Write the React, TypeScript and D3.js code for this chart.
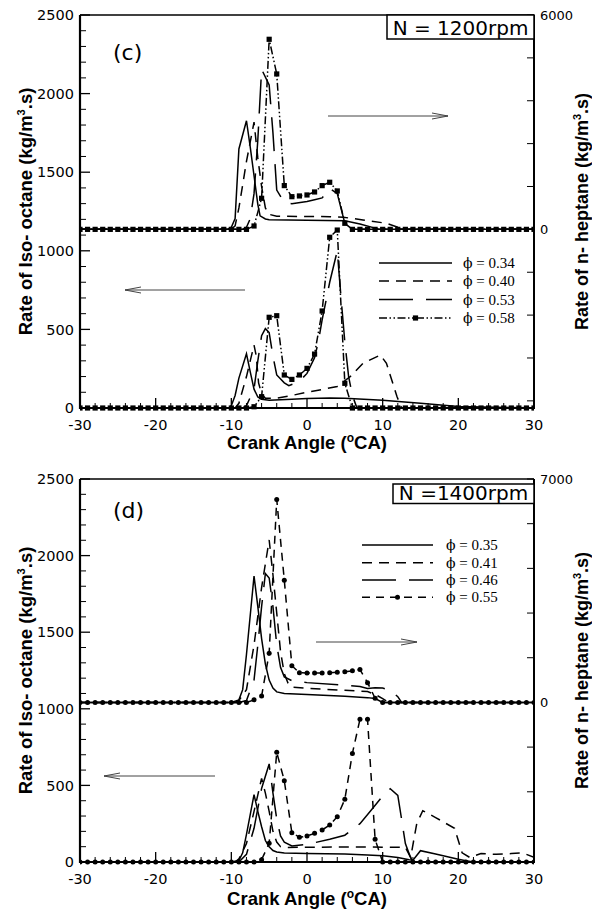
import React from 'react';
import * as d3 from 'd3';

type Pt = [number, number];

// ---------- axes / ticks ----------
const xMajorTicks = [-30, -20, -10, 0, 10, 20, 30];
const xMinorTicks = [-28, -26, -24, -22, -18, -16, -14, -12, -8, -6, -4, -2, 2, 4, 6, 8, 12, 14, 16, 18, 22, 24, 26, 28];
const leftMajorTicks = [0, 500, 1000, 1500, 2000, 2500];
const leftMinorTicks = [100, 200, 300, 400, 600, 700, 800, 900, 1100, 1200, 1300, 1400, 1600, 1700, 1800, 1900, 2100, 2200, 2300, 2400];
const cRightTicks = [-4800, -3600, -2400, -1200, 0, 1200, 2400, 3600, 4800, 6000];
const cRightLabels = [0, 6000];
const dRightTicks = [-4200, -2800, -1400, 0, 1400, 2800, 4200, 5600, 7000];
const dRightLabels = [0, 7000];

const markerAngles = [-30, -29, -28, -27, -26, -25, -24, -23, -22, -21, -20, -19, -18, -17, -16, -15, -14, -13, -12, -11, -10, -9, -8, -7, -6, -5, -4, -3, -2, -1, 0, 1, 2, 3, 4, 5, 6, 7, 8, 9, 10, 11, 12, 13, 14, 15, 16, 17, 18, 19, 20, 21, 22, 23, 24, 25, 26, 27, 28, 29, 30];

// ---------- panel (c) N = 1200 rpm ----------
const cLegend = ['0.34', '0.40', '0.53', '0.58'];
// n-heptane (right axis)
const cHept034: Pt[] = [[-30, 0], [-10.5, 0], [-10, 60], [-9.5, 300], [-9, 2250], [-8, 3040], [-7.5, 2300], [-7, 1500], [-6.5, 700], [-6.2, 380], [-5.5, 290], [-5, 270], [0, 258], [5, 240], [7, 150], [9.6, 0], [30, 0]];
const cHept040: Pt[] = [[-30, 0], [-10, 0], [-9.5, 100], [-9, 600], [-8, 1900], [-7, 3000], [-6.5, 2000], [-6, 1200], [-5.5, 600], [-5, 420], [-4, 370], [0, 360], [3, 355], [4.8, 340], [7.4, 263], [10.5, 170], [12, 60], [13, 0], [30, 0]];
const cHept053: Pt[] = [[-30, 0], [-8.5, 0], [-8, 60], [-7.5, 300], [-7, 1000], [-6.5, 2500], [-6, 4480], [-5, 4040], [-4.5, 2700], [-4, 1100], [-3, 750], [-2, 720], [0, 780], [1, 830], [2, 880], [3, 1150], [4, 1000], [5, 170], [5.8, 0], [30, 0]];
const cHept058 = [0, 0, 0, 0, 0, 0, 0, 0, 0, 0, 0, 0, 0, 0, 0, 0, 0, 0, 0, 0, 0, 0, 0, 95, 870, 5320, 4350, 1225, 915, 935, 963, 1047, 1224, 1318, 1075, 170, 0, 0, 0, 0, 0, 0, 0, 0, 0, 0, 0, 0, 0, 0, 0, 0, 0, 0, 0, 0, 0, 0, 0, 0, 0];
// iso-octane (left axis)
const cIso034: Pt[] = [[-30, 0], [-10.3, 0], [-10, 15], [-9.5, 80], [-9, 190], [-8, 345], [-7.5, 230], [-7, 120], [-6.5, 70], [-6, 55], [-5, 50], [-2, 55], [0, 60], [3, 63], [5, 62], [10, 50], [15, 30], [20, 10], [25, 4], [30, 2]];
const cIso040: Pt[] = [[-30, 0], [-9.5, 0], [-9, 30], [-8, 200], [-7, 400], [-6.7, 330], [-6.4, 160], [-6, 90], [-5.5, 62], [-4, 62], [-2, 80], [0, 100], [2, 118], [4, 137], [5.7, 199], [7.4, 284], [9.7, 337], [10.5, 284], [11.9, 72], [12.5, 0], [30, 0]];
const cIso053: Pt[] = [[-30, 0], [-8.5, 0], [-8, 15], [-7, 120], [-6.5, 300], [-6, 460], [-5.5, 505], [-5, 480], [-4.5, 330], [-4, 210], [-3, 160], [-2.4, 142], [-1, 170], [0, 220], [1, 320], [1.5, 422], [2, 560], [3, 800], [3.5, 900], [4, 1000], [4.5, 700], [5, 420], [5.5, 200], [6, 80], [6.6, 0], [30, 0]];
const cIso058 = [0, 0, 0, 0, 0, 0, 0, 0, 0, 0, 0, 0, 0, 0, 0, 0, 0, 0, 0, 0, 0, 0, 0, 8, 72, 577, 587, 210, 182, 210, 252, 343, 617, 1086, 1132, 157, 0, 0, 0, 0, 0, 0, 0, 0, 0, 0, 0, 0, 0, 0, 0, 0, 0, 0, 0, 0, 0, 0, 0, 0, 0];

// ---------- panel (d) N = 1400 rpm ----------
const dLegend = ['0.35', '0.41', '0.46', '0.55'];
const dHept035: Pt[] = [[-30, 0], [-10, 0], [-9, 80], [-8.5, 400], [-8, 1500], [-7, 3960], [-6.5, 3000], [-6, 2000], [-5.5, 1200], [-5, 700], [-4.5, 450], [-4, 330], [-3, 280], [0, 250], [5, 190], [8, 150], [9, 120], [10, 0], [30, 0]];
const dHept041: Pt[] = [[-30, 0], [-9.5, 0], [-9, 60], [-8, 400], [-7, 1800], [-6, 3600], [-5, 5090], [-4.5, 4000], [-4, 2800], [-3.5, 1600], [-3, 900], [-2.5, 600], [-2, 480], [0, 440], [5, 380], [8, 340], [9, 250], [10, 120], [10.8, 0], [30, 0]];
const dHept046: Pt[] = [[-30, 0], [-9, 0], [-8, 60], [-7, 700], [-6.5, 1800], [-6, 3000], [-5.5, 4040], [-5, 3900], [-4.5, 3000], [-4, 1800], [-3.5, 1100], [-3, 800], [-2, 680], [0, 620], [5, 540], [7, 500], [8, 440], [9, 460], [10, 450], [11, 380], [12, 180], [12.5, 0], [30, 0]];
const dHept055 = [0, 0, 0, 0, 0, 0, 0, 0, 0, 0, 0, 0, 0, 0, 0, 0, 0, 0, 0, 0, 0, 0, 0, 80, 200, 1540, 6360, 3830, 1150, 930, 920, 920, 925, 930, 945, 960, 990, 1030, 620, 130, 0, 0, 0, 0, 0, 0, 0, 0, 0, 0, 0, 0, 0, 0, 0, 0, 0, 0, 0, 0, 0];
const dIso035: Pt[] = [[-30, 0], [-10, 0], [-9, 10], [-8.5, 60], [-8, 180], [-7, 440], [-6.5, 330], [-6, 230], [-5.5, 140], [-5, 100], [-4.5, 75], [-4, 65], [-3, 58], [0, 56], [5, 52], [8, 45], [10, 40], [12, 30], [13.5, 15], [14, 12], [15, 74], [17, 52], [20, 18], [21, 8], [22, 0], [30, 0]];
const dIso041: Pt[] = [[-30, 0], [-9.5, 0], [-9, 20], [-8, 120], [-7, 330], [-6, 546], [-5.5, 450], [-5, 330], [-4.5, 200], [-4, 130], [-3.5, 100], [-3, 95], [0, 96], [5, 98], [8, 98], [10, 97], [13, 95], [13.7, 30], [14.5, 250], [15.3, 335], [17, 290], [19.5, 220], [20.5, 60], [21.5, 30], [23, 55], [25, 50], [27, 55], [28.5, 60], [30, 30]];
const dIso046: Pt[] = [[-30, 0], [-9, 0], [-8, 50], [-7, 220], [-6, 480], [-5, 640], [-4.5, 450], [-4, 280], [-3.5, 170], [-3, 130], [-2, 105], [0, 115], [3, 148], [5, 175], [7, 250], [8.5, 340], [10, 430], [11, 478], [12, 435], [12.5, 280], [13, 120], [13.6, 40], [14, 0], [30, 0]];
const dIso055 = [0, 0, 0, 0, 0, 0, 0, 0, 0, 0, 0, 0, 0, 0, 0, 0, 0, 0, 0, 0, 0, 0, 0, 0, 15, 122, 716, 531, 191, 161, 170, 187, 209, 241, 296, 409, 709, 931, 931, 148, 0, 0, 0, 0, 0, 0, 0, 0, 0, 0, 0, 0, 0, 0, 0, 0, 0, 0, 0, 0, 0];

// ---------- styles ----------
type Style = { dash?: string; marker?: 'square' | 'circle' };
const styleSolid: Style = {};
const styleDash: Style = { dash: '10,7' };
const styleLong: Style = { dash: '34,13' };
const styleDDot: Style = { dash: '8,2.5,1.5,2.5,1.5,2.5', marker: 'square' };
const styleDashCircle: Style = { dash: '8,6', marker: 'circle' };

const withAngles = (vals: number[]): Pt[] => markerAngles.map((a, i) => [a, vals[i]] as Pt);

const X0 = 80, X1 = 534;
const FONT = 'DejaVu Sans, Liberation Sans, Arial, sans-serif';
const BOLD = 'Liberation Sans, Arial, sans-serif';
const SERIF = 'Liberation Serif, Times New Roman, serif';

type Series = { data: Pt[]; axis: 'L' | 'R'; style: Style };

type PanelCfg = {
  id: string;
  top: number;
  bottom: number;
  rightDomain: [number, number];
  rightTicks: number[];
  rightLabels: number[];
  series: Series[];
  legend: string[];
  legendStyles: Style[];
  legendX0: number;
  legendX1: number;
  legendTextX: number;
  legendRows: number[];
  tag: string;
  tagY: number;
  box: string;
  boxX: number;
  boxY0: number;
  boxY1: number;
  arrowR: [number, number, number];
  arrowL: [number, number, number];
  titleOffset: number;
};

function Marker({ type, cx, cy }: { type?: 'square' | 'circle'; cx: number; cy: number }) {
  if (type === 'square') return <rect x={cx - 2.6} y={cy - 2.6} width={5.2} height={5.2} fill="#000" />;
  if (type === 'circle') return <circle cx={cx} cy={cy} r={2.5} fill="#000" />;
  return null;
}

function Arrow({ x0, x1, y }: { x0: number; x1: number; y: number }) {
  const dir = x1 > x0 ? 1 : -1;
  return (
    <g stroke="#444" strokeWidth={1} fill="none">
      <line x1={x0} y1={y} x2={x1} y2={y} />
      <path d={`M${x1 - dir * 16},${y - 3} L${x1},${y} L${x1 - dir * 16},${y + 3}`} />
    </g>
  );
}

function Panel({ cfg }: { cfg: PanelCfg }) {
  const x = d3.scaleLinear().domain([-30, 30]).range([X0, X1]);
  const yL = d3.scaleLinear().domain([0, 2500]).range([cfg.bottom, cfg.top]);
  const yR = d3.scaleLinear().domain(cfg.rightDomain).range([cfg.bottom, cfg.top]);
  const midY = (cfg.top + cfg.bottom) / 2;
  return (
    <g>
      <defs>
        <clipPath id={`clip-${cfg.id}`}>
          <rect x={X0} y={cfg.top - 4} width={X1 - X0} height={cfg.bottom - cfg.top + 8} />
        </clipPath>
      </defs>
      <g clipPath={`url(#clip-${cfg.id})`}>
        {cfg.series.map((s, i) => {
          const ys = s.axis === 'L' ? yL : yR;
          const line = d3.line<Pt>().x((d) => x(d[0])).y((d) => ys(d[1]));
          return (
            <g key={i}>
              <path d={line(s.data) || ''} fill="none" stroke="#000" strokeWidth={1.5} strokeDasharray={s.style.dash} />
              {s.style.marker && s.data.map((d, j) => <Marker key={j} type={s.style.marker} cx={x(d[0])} cy={ys(d[1])} />)}
            </g>
          );
        })}
      </g>
      {/* frame */}
      <line x1={X0} y1={cfg.top} x2={X1} y2={cfg.top} stroke="#000" strokeWidth={1.6} />
      <line x1={X1} y1={cfg.top} x2={X1} y2={cfg.bottom} stroke="#000" strokeWidth={2} />
      <line x1={X0} y1={cfg.top} x2={X0} y2={cfg.bottom + 1} stroke="#000" strokeWidth={2.2} />
      <line x1={X0 - 1} y1={cfg.bottom} x2={X1 + 1} y2={cfg.bottom} stroke="#000" strokeWidth={2.2} />
      {/* x ticks */}
      {xMajorTicks.map((t) => (
        <g key={`xm${t}`}>
          <line x1={x(t)} x2={x(t)} y1={cfg.bottom} y2={cfg.bottom - 10} stroke="#000" strokeWidth={1.3} />
          <text x={x(t)} y={cfg.bottom + 22} textAnchor="middle" fontFamily={FONT} fontSize={14.5}>{t}</text>
        </g>
      ))}
      {xMinorTicks.map((t) => (
        <line key={`xn${t}`} x1={x(t)} x2={x(t)} y1={cfg.bottom} y2={cfg.bottom - 5} stroke="#000" strokeWidth={1} />
      ))}
      {/* left ticks */}
      {leftMajorTicks.map((t) => (
        <g key={`lm${t}`}>
          <line x1={X0} x2={X0 + 10} y1={yL(t)} y2={yL(t)} stroke="#000" strokeWidth={1.3} />
          <text x={74} y={yL(t)} dy="0.36em" textAnchor="end" fontFamily={FONT} fontSize={14.5}>{t}</text>
        </g>
      ))}
      {leftMinorTicks.map((t) => (
        <line key={`ln${t}`} x1={X0} x2={X0 + 6} y1={yL(t)} y2={yL(t)} stroke="#000" strokeWidth={1} />
      ))}
      {/* right ticks */}
      {cfg.rightTicks.map((t) => (
        <line key={`r${t}`} x1={X1} x2={X1 - 7} y1={yR(t)} y2={yR(t)} stroke="#000" strokeWidth={1} />
      ))}
      {cfg.rightLabels.map((t) => (
        <text key={`rl${t}`} x={540} y={yR(t)} dy="0.36em" fontFamily={FONT} fontSize={13}>{t}</text>
      ))}
      {/* titles */}
      <text x={(X0 + X1) / 2} y={cfg.bottom + cfg.titleOffset} textAnchor="middle" fontFamily={BOLD} fontWeight="bold" fontSize={18.5}>
        Crank Angle (<tspan fontSize={12} dy={-7}>o</tspan><tspan dy={7}>CA)</tspan>
      </text>
      <text transform={`translate(31.5,${midY}) rotate(-90)`} textAnchor="middle" fontFamily={BOLD} fontWeight="bold" fontSize={18.5}>
        Rate of Iso- octane (kg/m<tspan fontSize={11} dy={-7}>3</tspan><tspan dy={7}>.s)</tspan>
      </text>
      <text transform={`translate(587.5,${midY}) rotate(-90)`} textAnchor="middle" fontFamily={BOLD} fontWeight="bold" fontSize={18}>
        Rate of n- heptane (kg/m<tspan fontSize={11} dy={-7}>3</tspan><tspan dy={7}>.s)</tspan>
      </text>
      {/* tag */}
      <text x={113} y={cfg.tagY} fontFamily={FONT} fontSize={22}>{cfg.tag}</text>
      {/* box */}
      <rect x={cfg.boxX} y={cfg.boxY0} width={X1 - cfg.boxX} height={cfg.boxY1 - cfg.boxY0} fill="#fff" stroke="#000" strokeWidth={1.5} />
      <text x={(cfg.boxX + X1) / 2} y={cfg.boxY1 - 4} textAnchor="middle" fontFamily={FONT} fontSize={20}>{cfg.box}</text>
      {/* arrows */}
      <Arrow x0={cfg.arrowR[0]} x1={cfg.arrowR[1]} y={cfg.arrowR[2]} />
      <Arrow x0={cfg.arrowL[0]} x1={cfg.arrowL[1]} y={cfg.arrowL[2]} />
      {/* legend */}
      {cfg.legend.map((lab, i) => {
        const st = cfg.legendStyles[i];
        const ry = cfg.legendRows[i];
        return (
          <g key={lab}>
            <line x1={cfg.legendX0} x2={cfg.legendX1} y1={ry} y2={ry} stroke="#000" strokeWidth={1.5} strokeDasharray={st.dash} />
            {st.marker && <Marker type={st.marker} cx={(cfg.legendX0 + cfg.legendX1) / 2} cy={ry} />}
            <text x={cfg.legendTextX} y={ry + 5} fontFamily={SERIF} fontSize={15} fill="#000">
              <tspan fontFamily="DejaVu Serif, serif" fontSize={14}>{'\u03d5'}</tspan>
              <tspan>{` = ${lab}`}</tspan>
            </text>
          </g>
        );
      })}
    </g>
  );
}

const panelC: PanelCfg = {
  id: 'c',
  top: 15,
  bottom: 408,
  rightDomain: [-5000, 6000],
  rightTicks: cRightTicks,
  rightLabels: cRightLabels,
  series: [
    { data: cHept034, axis: 'R', style: styleSolid },
    { data: cHept040, axis: 'R', style: styleDash },
    { data: cHept053, axis: 'R', style: styleLong },
    { data: withAngles(cHept058), axis: 'R', style: styleDDot },
    { data: cIso034, axis: 'L', style: styleSolid },
    { data: cIso040, axis: 'L', style: styleDash },
    { data: cIso053, axis: 'L', style: styleLong },
    { data: withAngles(cIso058), axis: 'L', style: styleDDot },
  ],
  legend: cLegend,
  legendStyles: [styleSolid, styleDash, styleLong, styleDDot],
  legendX0: 379,
  legendX1: 452,
  legendTextX: 463,
  legendRows: [263, 281, 299.5, 318],
  tag: '(c)',
  tagY: 60,
  box: 'N = 1200rpm',
  boxX: 387,
  boxY0: 15,
  boxY1: 39,
  arrowR: [328, 448, 116],
  arrowL: [245, 125, 290],
  titleOffset: 41,
};

const panelD: PanelCfg = {
  id: 'd',
  top: 479,
  bottom: 862,
  rightDomain: [-5000, 7000],
  rightTicks: dRightTicks,
  rightLabels: dRightLabels,
  series: [
    { data: dHept035, axis: 'R', style: styleSolid },
    { data: dHept041, axis: 'R', style: styleDash },
    { data: dHept046, axis: 'R', style: styleLong },
    { data: withAngles(dHept055), axis: 'R', style: styleDashCircle },
    { data: dIso035, axis: 'L', style: styleSolid },
    { data: dIso041, axis: 'L', style: styleDash },
    { data: dIso046, axis: 'L', style: styleLong },
    { data: withAngles(dIso055), axis: 'L', style: styleDashCircle },
  ],
  legend: dLegend,
  legendStyles: [styleSolid, styleDash, styleLong, styleDashCircle],
  legendX0: 362,
  legendX1: 433,
  legendTextX: 446,
  legendRows: [545, 562.7, 580, 597.3],
  tag: '(d)',
  tagY: 518,
  box: 'N =1400rpm',
  boxX: 393,
  boxY0: 484,
  boxY1: 503.5,
  arrowR: [316, 417, 642],
  arrowL: [215, 104, 776],
  titleOffset: 43,
};

export default function App() {
  return (
    <svg width={592} height={910} style={{ position: 'absolute', left: 0, top: 0, background: '#fff' }}>
      <rect x={0} y={0} width={592} height={910} fill="#fff" />
      <Panel cfg={panelC} />
      <Panel cfg={panelD} />
    </svg>
  );
}
